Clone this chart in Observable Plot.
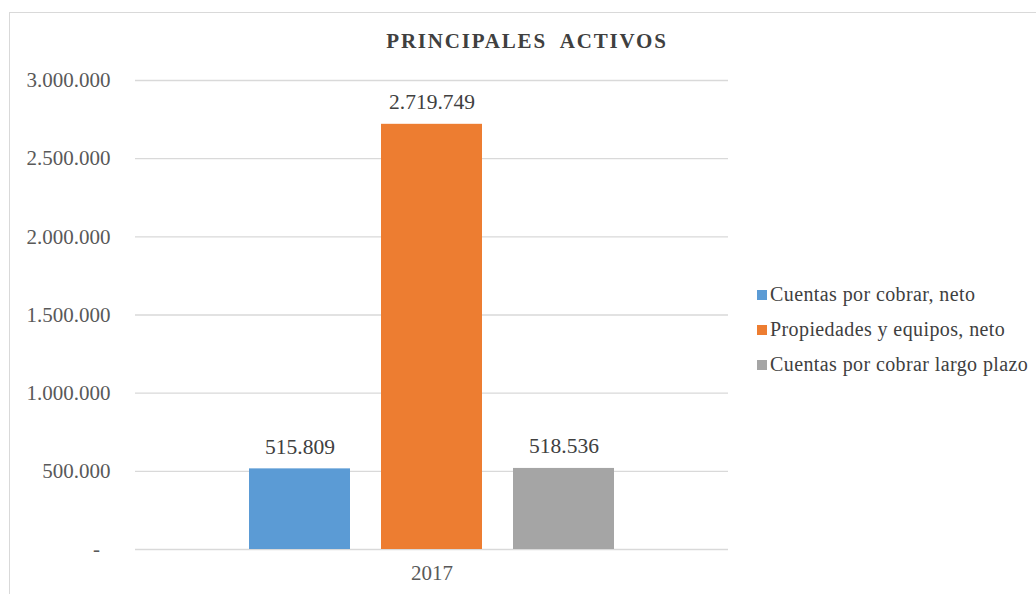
<!DOCTYPE html>
<html><head><meta charset="utf-8">
<script src="https://cdn.jsdelivr.net/npm/d3@7"></script>
<script src="https://cdn.jsdelivr.net/npm/@observablehq/plot@0.6"></script>
<style>
html,body{margin:0;padding:0;background:#fff;}
#wrap{position:relative;width:1036px;height:594px;overflow:hidden;}
#border{position:absolute;left:9px;top:12px;width:1100px;height:700px;border:1.5px solid #d9d9d9;box-sizing:border-box;}
#title{position:absolute;left:0;width:1054px;top:29px;text-align:center;font-weight:bold;font-size:21px;letter-spacing:1.8px;color:#404040;}
#chart{position:absolute;left:0;top:0;}
#legend{position:absolute;left:757px;top:277px;}
#legend .sw{display:flex;align-items:center;height:35px;font-size:20px;color:#404040;letter-spacing:0.4px;white-space:nowrap;}
#legend .sq{width:10px;height:10px;margin-right:3px;flex:none;}
</style></head>
<body><div id="wrap" style="font-family:'Liberation Serif',serif"><div id="border"></div><div id="title" style="font-family:'Liberation Serif',serif">PRINCIPALES&nbsp; ACTIVOS</div><div id="chart"></div><div id="legend" style="font-family:'Liberation Serif',serif"></div></div>
<script>
const year = "2017";
const series = ["Cuentas por cobrar, neto", "Propiedades y equipos, neto", "Cuentas por cobrar largo plazo"];
const values = [515809, 2719749, 518536];
const colors = ["#5b9bd5", "#ed7d31", "#a5a5a5"];
const yTicks = [0, 500000, 1000000, 1500000, 2000000, 2500000, 3000000];

const data = series.map((s, i) => ({year, series: s, value: values[i]}));
const fmtVal = v => d3.format(",")(v).replace(/,/g, ".");
const fmtTick = v => v === 0 ? "-\u00a0\u00a0" : fmtVal(v);

const chart = Plot.plot({
  width: 1036, height: 594,
  marginLeft: 135, marginRight: 308, marginTop: 80, marginBottom: 45,
  style: {fontFamily: "Liberation Serif, serif", fontSize: "21px", color: "#595959", background: "transparent"},
  fx: {domain: [year], padding: 0, axis: "bottom", label: null, tickSize: 0, tickPadding: 16},
  x: {domain: series, axis: null, paddingInner: 0.233, paddingOuter: 0.846},
  y: {domain: [0, 3000000], ticks: yTicks, tickFormat: fmtTick, tickSize: 0, tickPadding: 25, label: null, grid: false},
  color: {domain: series, range: colors},
  marks: [
    Plot.ruleY(yTicks, {stroke: "#d9d9d9", strokeWidth: 1.3}),
    Plot.barY(data, {fx: "year", x: "series", y: "value", fill: "series"}),
    Plot.text(data, {fx: "year", x: "series", y: "value", text: d => fmtVal(d.value), dy: -22, fill: "#404040", fontSize: 21.5})
  ]
});
document.getElementById("chart").appendChild(chart);

const leg = document.getElementById("legend");
series.forEach((s, i) => {
  const row = document.createElement("div");
  row.className = "sw";
  const sq = document.createElement("span");
  sq.className = "sq"; sq.style.background = colors[i];
  const tx = document.createElement("span");
  tx.textContent = s;
  row.appendChild(sq); row.appendChild(tx);
  leg.appendChild(row);
});
</script></body></html>
